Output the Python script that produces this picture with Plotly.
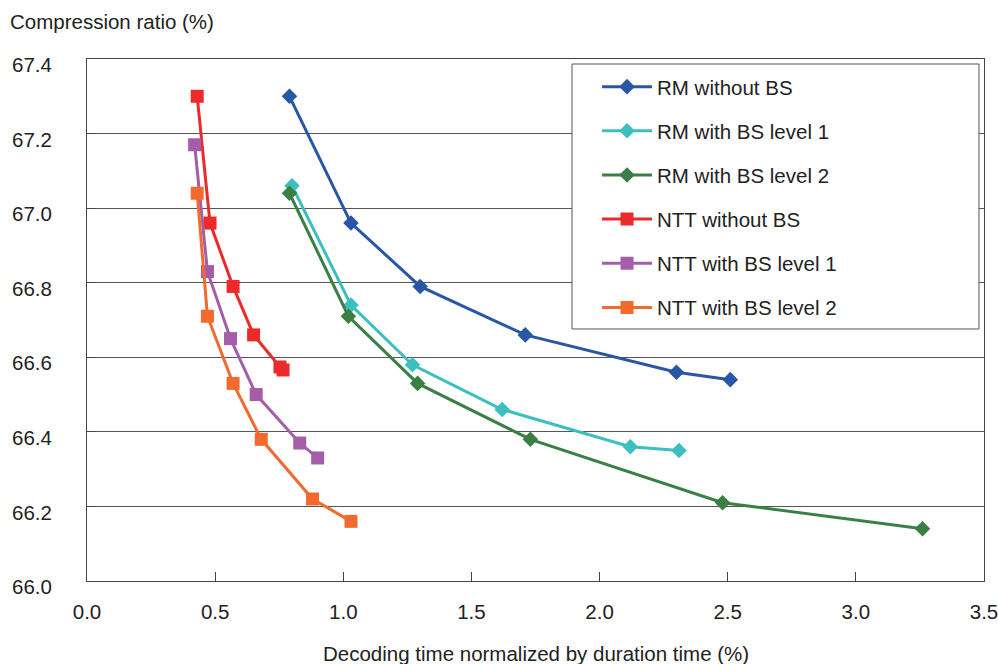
import plotly.graph_objects as go

# Data
rm_wo_x = [0.79, 1.03, 1.30, 1.71, 2.30, 2.51]
rm_wo_y = [67.30, 66.96, 66.79, 66.66, 66.56, 66.54]

rm_l1_x = [0.80, 1.03, 1.27, 1.62, 2.12, 2.31]
rm_l1_y = [67.06, 66.74, 66.58, 66.46, 66.36, 66.35]

rm_l2_x = [0.79, 1.02, 1.29, 1.73, 2.48, 3.26]
rm_l2_y = [67.04, 66.71, 66.53, 66.38, 66.21, 66.14]

ntt_wo_x = [0.43, 0.48, 0.57, 0.65, 0.753, 0.765]
ntt_wo_y = [67.30, 66.96, 66.79, 66.66, 66.574, 66.566]

ntt_l1_x = [0.42, 0.47, 0.56, 0.66, 0.83, 0.90]
ntt_l1_y = [67.17, 66.83, 66.65, 66.50, 66.37, 66.33]

ntt_l2_x = [0.43, 0.47, 0.57, 0.68, 0.88, 1.03]
ntt_l2_y = [67.04, 66.71, 66.53, 66.38, 66.22, 66.16]

names = ["RM without BS", "RM with BS level 1", "RM with BS level 2",
         "NTT without BS", "NTT with BS level 1", "NTT with BS level 2"]
colors = ["#2a56a6", "#3dbfc0", "#3a8044", "#ec2a2a", "#a45ea8", "#f26a2e"]
symbols = ["diamond", "diamond", "diamond", "square", "square", "square"]
xs = [rm_wo_x, rm_l1_x, rm_l2_x, ntt_wo_x, ntt_l1_x, ntt_l2_x]
ys = [rm_wo_y, rm_l1_y, rm_l2_y, ntt_wo_y, ntt_l1_y, ntt_l2_y]

x_ticks = [0.0, 0.5, 1.0, 1.5, 2.0, 2.5, 3.0, 3.5]
y_ticks = [66.0, 66.2, 66.4, 66.6, 66.8, 67.0, 67.2, 67.4]

FONT = "Liberation Sans, Arial, sans-serif"
TXT = "#222222"
FS = 20.5

fig = go.Figure()
for i in range(6):
    fig.add_trace(go.Scatter(
        x=xs[i], y=ys[i], name=names[i], mode="lines+markers",
        line=dict(color=colors[i], width=3),
        marker=dict(symbol=symbols[i], size=13 if symbols[i] == "square" else 12,
                    color=colors[i]),
        legendgroup=f"g{i}",
    ))

fig.update_layout(
    width=998, height=664,
    margin=dict(l=87, r=14, t=59, b=83),
    paper_bgcolor="white", plot_bgcolor="white",
    font=dict(family=FONT, size=FS, color=TXT),
    showlegend=True,
    legend=dict(
        x=0.5686, y=0.985, xanchor="left", yanchor="top",
        bgcolor="rgba(0,0,0,0)", borderwidth=0,
        font=dict(family=FONT, size=FS, color=TXT),
        tracegroupgap=14.5, itemwidth=50,
    ),
    xaxis=dict(
        range=[0, 3.5], tickvals=x_ticks,
        ticktext=[f"{v:.1f}" for v in x_ticks],
        showgrid=False, zeroline=False, automargin=False,
        showline=True, linecolor="#444444", linewidth=1, mirror=True,
        ticks="inside", ticklen=9, tickcolor="#444444",
        ticklabelstandoff=12, ticklabeloverflow="allow",
        tickfont=dict(family=FONT, size=FS, color=TXT),
    ),
    yaxis=dict(
        range=[66.0, 67.4], tickvals=y_ticks,
        ticktext=[f"{v:.1f}" for v in y_ticks],
        showgrid=True, gridcolor="#555555", gridwidth=1, zeroline=False,
        automargin=False,
        showline=True, linecolor="#444444", linewidth=1, mirror=True,
        ticks="inside", ticklen=8, tickcolor="#444444",
        ticklabelstandoff=30, ticklabelshift=6, ticklabeloverflow="allow",
        tickfont=dict(family=FONT, size=FS, color=TXT),
    ),
    shapes=[
        dict(type="rect", xref="paper", yref="paper",
             x0=0.5407, x1=0.9944, y0=0.4828, y1=0.9904,
             fillcolor="white", line=dict(color="#555555", width=1),
             layer="above"),
    ],
    annotations=[
        dict(text="Compression ratio (%)", xref="paper", yref="paper",
             x=-0.088, y=1.0709, xanchor="left", yanchor="middle",
             showarrow=False, font=dict(family=FONT, size=FS, color=TXT)),
        dict(text="Decoding time normalized by duration time (%)", xref="paper", yref="paper",
             x=0.5, y=-0.138, xanchor="center", yanchor="middle",
             showarrow=False, font=dict(family=FONT, size=FS, color=TXT)),
    ],
)

fig.write_html("out.html", config={"displayModeBar": False},
               post_script="document.body.style.margin='0';document.body.style.padding='0';")
